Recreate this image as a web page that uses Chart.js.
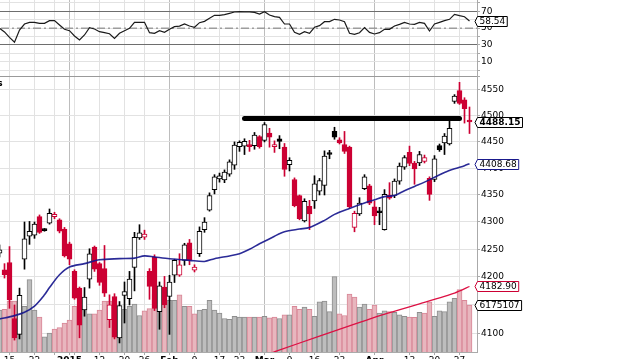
<!DOCTYPE html>
<html><head><meta charset="utf-8">
<script src="https://cdn.jsdelivr.net/npm/chart.js@4.4.1/dist/chart.umd.min.js"></script>
<style>
html,body{margin:0;padding:0;background:#fff;}
#wrap{position:relative;width:635px;height:359px;overflow:hidden;background:#fff;}
#c{position:absolute;left:-31px;top:-20px;width:666px;height:400px;}
</style></head><body>
<div id="wrap"><canvas id="c" width="666" height="400"></canvas></div>
<script>
// ---------- data ----------
const dates = ['2014-12-11','2014-12-12','2014-12-15','2014-12-16','2014-12-17','2014-12-18','2014-12-19','2014-12-22','2014-12-23','2014-12-24','2014-12-26','2014-12-29','2014-12-30','2014-12-31',
'2015-01-02','2015-01-05','2015-01-06','2015-01-07','2015-01-08','2015-01-09','2015-01-12','2015-01-13','2015-01-14','2015-01-15','2015-01-16','2015-01-20','2015-01-21','2015-01-22','2015-01-23','2015-01-26','2015-01-27','2015-01-28','2015-01-29','2015-01-30',
'2015-02-02','2015-02-03','2015-02-04','2015-02-05','2015-02-06','2015-02-09','2015-02-10','2015-02-11','2015-02-12','2015-02-13','2015-02-17','2015-02-18','2015-02-19','2015-02-20','2015-02-23','2015-02-24','2015-02-25','2015-02-26','2015-02-27',
'2015-03-02','2015-03-03','2015-03-04','2015-03-05','2015-03-06','2015-03-09','2015-03-10','2015-03-11','2015-03-12','2015-03-13','2015-03-16','2015-03-17','2015-03-18','2015-03-19','2015-03-20','2015-03-23','2015-03-24','2015-03-25','2015-03-26','2015-03-27','2015-03-30','2015-03-31',
'2015-04-01','2015-04-02','2015-04-06','2015-04-07','2015-04-08','2015-04-09','2015-04-10','2015-04-13','2015-04-14','2015-04-15','2015-04-16','2015-04-17','2015-04-20','2015-04-21','2015-04-22','2015-04-23','2015-04-24','2015-04-27','2015-04-28','2015-04-29'];

const priorClose = 4236;
const open = [4243,4213,4226,4126,4098,4232,4274,4276,4310,4286,4298,4310,4304,4287,
4260,4210,4180,4141,4196,4254,4224,4215,4124,4165,4092,4167,4161,4217,4271,4272,4210,4236,4138,4182,
4165,4203,4203,4230,4262,4212,4242,4286,4322,4360,4380,4378,4389,4406,4441,4442,4442,4443,4460,
4453,4467,4441,4456,4440,4407,4379,4349,4302,4329,4339,4357,4368,4428,4470,4454,4445,4440,4290,4315,4362,4367,
4328,4318,4286,4350,4349,4376,4402,4430,4410,4410,4413,4381,4379,4443,4448,4446,4528,4549,4531,4490];
const high = [4258,4224,4255,4150,4180,4300,4301,4300,4313,4288,4324,4318,4306,4290,
4263,4213,4182,4181,4251,4256,4226,4257,4168,4170,4156,4191,4210,4281,4295,4285,4215,4240,4191,4201,
4203,4232,4242,4261,4268,4222,4291,4308,4354,4388,4391,4397,4416,4450,4452,4456,4453,4468,4462,
4487,4476,4452,4462,4447,4420,4382,4350,4343,4340,4386,4381,4433,4434,4478,4458,4470,4442,4320,4345,4388,4370,
4339,4327,4360,4373,4380,4410,4424,4442,4413,4432,4425,4384,4424,4446,4466,4491,4541,4565,4535,4517];
const low = [4236,4198,4144,4088,4090,4214,4259,4270,4279,4283,4296,4306,4280,4236,
4222,4160,4092,4130,4180,4210,4185,4165,4110,4090,4083,4118,4150,4175,4268,4268,4160,4140,4107,4145,
4098,4190,4201,4221,4222,4209,4237,4281,4320,4352,4374,4373,4385,4398,4432,4426,4432,4436,4438,
4450,4440,4430,4437,4385,4395,4328,4304,4300,4286,4325,4350,4350,4418,4455,4446,4428,4325,4282,4312,4360,4332,
4295,4295,4285,4342,4345,4370,4398,4405,4370,4405,4410,4340,4375,4432,4426,4444,4524,4522,4486,4466];
const close = [4249,4204,4159,4092,4167,4269,4283,4296,4281,4284,4316,4314,4283,4238,
4232,4162,4114,4164,4242,4214,4190,4171,4150,4093,4149,4174,4196,4272,4280,4278,4183,4144,4184,4150,
4191,4230,4222,4258,4230,4218,4283,4300,4349,4384,4386,4393,4412,4444,4449,4451,4441,4463,4441,
4483,4459,4445,4451,4398,4415,4330,4306,4338,4315,4371,4377,4423,4426,4459,4448,4432,4328,4316,4335,4384,4335,
4311,4317,4351,4344,4376,4404,4420,4409,4399,4426,4420,4351,4418,4435,4461,4476,4538,4524,4514,4488.15];
// volume in millions of shares
const volumeM = [5.5,5.6,6.7,6.7,6.0,6.0,9.5,5.5,4.6,2.0,2.5,3.0,3.2,3.8,
4.2,6.0,6.0,6.0,5.0,5.0,5.5,6.7,6.7,6.0,5.6,5.6,6.0,6.3,4.8,5.4,5.7,7.6,6.8,6.5,
6.8,6.8,7.5,6.0,6.0,5.0,5.5,5.6,6.8,5.5,5.1,4.4,4.3,4.7,4.6,4.6,4.6,4.6,4.6,
4.7,4.5,4.6,4.4,4.9,4.9,6.0,5.6,5.9,5.6,4.7,6.6,6.7,5.3,9.9,5.0,4.8,7.6,7.2,5.9,6.3,5.6,
6.18,5.1,5.4,5.3,5.2,4.9,4.7,4.6,4.55,5.2,5.1,6.6,4.7,5.4,5.3,6.6,7.05,8.2,6.8,6.175107];
const rsi = [49.8,45.5,39,33.2,47.8,54.9,56.9,56.9,55.7,55.7,58.9,58.9,53.7,48.6,
47,40.7,35.9,41.9,50.6,49,45.8,44.6,43.4,37.9,43.9,47,49.8,56.9,56.9,56.9,44.6,43.9,47,45,
48.6,51.8,52.5,54.9,52.5,51,56.5,58.1,61.7,65.2,65.2,66,67.6,69.2,69.6,69.2,69.2,68.8,66.8,
69.6,65.6,63.6,62.8,54.9,54.9,45,42.7,45.8,43.9,51,53,57.7,57.7,60.5,59.7,57.7,43.9,42.7,44.6,50.6,45,
43.1,44.6,48.6,48.6,52.5,54.5,56.9,54.9,54.5,56.9,55.7,46.6,54.9,56.9,58.9,60.5,66.4,64.8,63.6,58.54];
// moving averages, read at sample days (day index, value)
const sma50Idx = [0,3,5,7,9,10,12,14,17,20,24,27,29,31,34,38,41,43,46,48,50,52,55,57,60,62,65,67,70,73,75,77,79,81,83,85,87,89,91,93,94];
const sma50Val = [4125,4131,4137,4148,4168,4181,4204,4218,4224,4231,4233,4234,4238,4236,4233,4230,4228,4233,4238,4242,4250,4260,4274,4282,4287,4290,4303,4314,4325,4335,4341,4347,4349,4358,4366,4374,4383,4392,4399,4405,4408.68];
const sma200Idx = [54,55.5,64,71,77.5,84,91,94];
const sma200Val = [4064,4069,4095,4116,4135,4152,4171,4182.90];
// horizontal resistance line drawn on the chart
const trendIdx = [49,92];
const trendVal = [4495,4495];
// RSI reference levels
const rsiUpper = 70, rsiMid = 50, rsiLower = 30;
// axis ticks
const tickIdx  = [2,7,11,14,15,20,25,29,34,39,44,48,53,58,63,68,75,82,87,92];
const tickText = ['15','22','','2015','','12','20','26','Feb','9','17','23','Mar','9','16','23','Apr','13','20','27'];
const boldTicks = ['2015','Feb','Mar','Apr'];
const priceTicks = [4100,4150,4200,4250,4300,4350,4400,4450,4500,4550];
const rsiTicks = [0,10,20,30,40,50,60,70,80,90,100];
const rsiLabelled = [10,30,50,70,90];

// ---------- styling / layout ----------
const FONT = "'DejaVu Sans', Verdana, sans-serif";
const RED = '#cc0033';
const NAVY = '#1a1a8c';
const xMin = -6.1, xMax = 95.5;
const rsiPanelFloor = -7.2;

const n = dates.length;
const colorOf = i => (close[i] < (i > 0 ? close[i-1] : priorClose)) ? RED : '#000';
const candleCol = dates.map((d,i) => colorOf(i));
const bodyFill = dates.map((d,i) => close[i] < open[i] ? candleCol[i] : '#ffffff');
const volFill = candleCol.map(c => c === RED ? '#e8b6be' : '#bdbdbd');
const volEdge = candleCol.map(c => c === RED ? '#d98797' : '#8e8e8e');

const pad0 = s => { s.paddingTop = 0; s.paddingBottom = 0; s.paddingLeft = 0; s.paddingRight = 0; };

const tagPlugin = {
  id: 'tags',
  afterDraw(chart) {
    const ctx = chart.ctx, ca = chart.chartArea;
    const last = n - 1;
    const tags = [
      {axis:'yRsi', v: rsi[last], text: rsi[last].toFixed(2), color:'#000', bold:false},
      {axis:'yPrice', v: close[last], text: close[last].toFixed(2), color:'#000', bold:true},
      {axis:'yPrice', v: sma50Val[sma50Val.length-1], text: sma50Val[sma50Val.length-1].toFixed(2), color: NAVY, bold:false},
      {axis:'yPrice', v: sma200Val[sma200Val.length-1], text: sma200Val[sma200Val.length-1].toFixed(2), color: RED, bold:false},
      {axis:'yVol', v: volumeM[last]*1e6, text: String(Math.round(volumeM[last]*1e6)), color:'#000', bold:false}
    ];
    ctx.save();
    tags.forEach(t => {
      const y = Math.round(chart.scales[t.axis].getPixelForValue(t.v)) + 0.5;
      ctx.font = (t.bold ? 'bold ' : '') + '9px ' + FONT;
      const w = ctx.measureText(t.text).width;
      const left = ca.right + 0.5, tip = ca.right - 2, right = left + w + 4, h = 5;
      ctx.beginPath();
      ctx.moveTo(tip, y); ctx.lineTo(left, y - h); ctx.lineTo(right, y - h);
      ctx.lineTo(right, y + h); ctx.lineTo(left, y + h); ctx.closePath();
      ctx.fillStyle = '#fff'; ctx.fill();
      ctx.lineWidth = 1; ctx.strokeStyle = t.color; ctx.stroke();
      ctx.fillStyle = '#000'; ctx.textBaseline = 'middle'; ctx.textAlign = 'left';
      ctx.fillText(t.text, left + 2, y + 0.5);
    });
    ctx.font = 'bold 9px ' + FONT; ctx.fillStyle = '#000'; ctx.textAlign = 'right'; ctx.textBaseline = 'middle';
    ctx.fillText('s', ca.left + 33.5, 104);
    ctx.restore();
  }
};

new Chart(document.getElementById('c'), {
  type: 'bar',
  data: {
    datasets: [
      { type:'line', yAxisID:'yPrice', order:0, data: trendIdx.map((x,k)=>({x, y: trendVal[k]})),
        borderColor:'#000', borderWidth:5, borderCapStyle:'round', pointRadius:0 },
      { type:'line', yAxisID:'yRsi', order:0, data: rsi.map((v,i)=>({x:i, y:v})),
        borderColor:'#1a1a1a', borderWidth:1.2, pointRadius:0, tension:0 },
      { type:'line', yAxisID:'yRsi', order:1, data: [{x:xMin,y:rsiMid},{x:xMax,y:rsiMid}],
        borderColor:'#777', borderWidth:1, borderDash:[8,3,2,3], pointRadius:0 },
      { type:'line', yAxisID:'yPrice', order:1, data: sma50Idx.map((x,k)=>({x, y: sma50Val[k]})),
        borderColor:'rgba(20,20,140,0.9)', borderWidth:1.6, pointRadius:0, tension:0.3 },
      { type:'line', yAxisID:'yPrice', order:1, data: sma200Idx.map((x,k)=>({x, y: sma200Val[k]})),
        borderColor:'#dd1144', borderWidth:1.3, pointRadius:0, tension:0.2 },
      { type:'bar', yAxisID:'yPrice', order:2, grouped:false, data: dates.map((d,i)=>({x:i, y:[open[i], close[i]]})),
        backgroundColor: bodyFill, borderColor: candleCol, borderWidth:1, borderSkipped:false,
        barThickness:5, minBarLength:2 },
      { type:'bar', yAxisID:'yPrice', order:3, grouped:false, data: dates.map((d,i)=>({x:i, y:[low[i], high[i]]})),
        backgroundColor: candleCol, borderWidth:0, barThickness:1 },
      { type:'bar', yAxisID:'yVol', order:4, grouped:false, data: volumeM.map((v,i)=>({x:i, y: v*1e6})),
        backgroundColor: volFill, borderColor: volEdge, borderWidth:1, borderSkipped:'start', barThickness:5 }
    ]
  },
  options: {
    responsive:false, animation:false, devicePixelRatio:1,
    layout:{ padding:0 },
    plugins:{ legend:{display:false}, tooltip:{enabled:false} },
    scales:{
      x:{ type:'linear', min:xMin, max:xMax, offset:false,
        afterBuildTicks: s => { s.ticks = tickIdx.map(v => ({value:v})); },
        afterFit: s => { s.height = 28; pad0(s); },
        ticks:{ autoSkip:false, maxRotation:0, padding:0, color:'#000',
          callback: v => { const k = tickIdx.indexOf(v); return k < 0 ? null : tickText[k]; },
          font: c => ({family:FONT, size:9, weight: (c.tick && boldTicks.includes(c.tick.label)) ? 'bold' : 'normal'}) },
        grid:{ offset:false, tickLength:3, tickColor:'#aaa',
          color: c => (c.tick && boldTicks.includes(tickText[tickIdx.indexOf(c.tick.value)])) ? '#bdbdbd' : '#e2e2e2' },
        border:{ color:'#aaa' } },
      yRsi:{ type:'linear', position:'right', weight:0, min:-334.4, max:107.15,
        afterBuildTicks: s => { s.ticks = [rsiPanelFloor].concat(rsiTicks).map(v => ({value:v})); },
        afterFit: s => { s.width = 0; pad0(s); },
        ticks:{ mirror:true, padding:15.5, crossAlign:'near', color:'#000', font:{family:FONT, size:9},
          callback: v => rsiLabelled.includes(v) ? String(v) : '' },
        grid:{ tickLength:3, tickColor:'#aaa',
          color: c => { const v = c.tick ? c.tick.value : 0;
            return (v === rsiUpper || v === rsiLower) ? '#6e6e6e' : (v === rsiPanelFloor ? '#9a9a9a' : '#e2e2e2'); } },
        border:{ display:false } },
      yPrice:{ type:'logarithmic', position:'right', weight:1, min:4067.2, max:4769.4,
        afterBuildTicks: s => { s.ticks = priceTicks.map(v => ({value:v})); },
        afterFit: s => { s.width = 158; pad0(s); },
        ticks:{ padding:1, color:'#000', font:{family:FONT, size:9}, callback: v => String(v) },
        grid:{ color:'#e2e2e2', tickLength:3, tickColor:'#aaa' },
        border:{ color:'#aaa' } },
      yVol:{ type:'linear', display:false, min:0, max:48.876e6 }
    }
  },
  plugins:[tagPlugin]
});
</script>
</body></html>
